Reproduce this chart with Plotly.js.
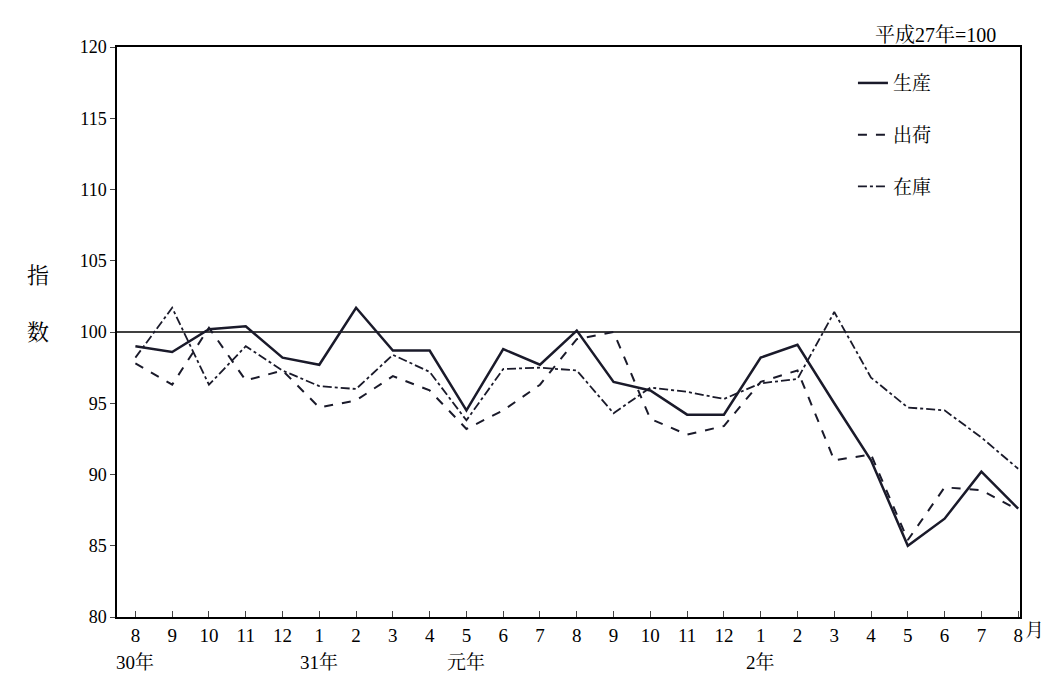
<!DOCTYPE html>
<html><head><meta charset="utf-8">
<script src="https://cdn.plot.ly/plotly-3.0.1.min.js"></script>
</head><body style="margin:0">
<div id="c" style="width:1058px;height:686px"></div>
<script>
const months = ["8","9","10","11","12","1","2","3","4","5","6","7","8","9","10","11","12","1","2","3","4","5","6","7","8"];
const production = [99.0,98.6,100.2,100.4,98.2,97.7,101.7,98.7,98.7,94.5,98.8,97.7,100.1,96.5,95.9,94.2,94.2,98.2,99.1,95.0,91.0,85.0,86.9,90.2,87.6];
const shipment = [97.8,96.3,100.3,96.6,97.3,94.7,95.2,96.9,95.9,93.2,94.5,96.3,99.5,100.0,93.9,92.8,93.4,96.5,97.3,91.0,91.4,85.4,89.1,88.9,87.5];
const inventory = [98.2,101.7,96.3,99.0,97.3,96.2,96.0,98.4,97.2,93.8,97.4,97.5,97.3,94.3,96.1,95.8,95.3,96.4,96.7,101.4,96.8,94.7,94.5,92.6,90.4];
const yearLabels = [{i:0,t:"30年"},{i:5,t:"31年"},{i:9,t:"元年"},{i:17,t:"2年"}];
const idx = months.map((_,i)=>i);
const F = "'Liberation Serif', 'Noto Serif CJK JP', 'Noto Sans CJK JP', serif";
const traces = [
 {x:[-0.5,24.05],y:[100,100],mode:"lines",line:{color:"#000",width:1.5},showlegend:false,hoverinfo:"skip"},
 {x:idx,y:production,name:"生産",legendgroup:"a",mode:"lines",line:{color:"#1a1a2a",width:2.5}},
 {x:idx,y:shipment,name:"出荷",legendgroup:"b",mode:"lines",line:{color:"#1a1a2a",width:2,dash:"dash"}},
 {x:idx,y:inventory,name:"在庫",legendgroup:"c",mode:"lines",line:{color:"#1a1a2a",width:1.8,dash:"dashdot"}}
];
const ann = yearLabels.map(o=>({x:o.i,y:0,xref:"x",yref:"paper",yshift:-58,text:o.t,showarrow:false,xanchor:"center",font:{size:19,family:F}}));
ann.push({x:1,xref:"paper",y:0,yref:"paper",xshift:26,yshift:-26,text:"月",showarrow:false,font:{size:19,family:F}});
ann.push({x:1,xref:"paper",y:1,yref:"paper",yshift:25,xshift:-22,xanchor:"right",text:"平成27年=100",showarrow:false,font:{size:20,family:F}});
ann.push({x:0,xref:"paper",y:0.55,yref:"paper",xshift:-92,text:"指<br><br>数",showarrow:false,font:{size:22,family:F}});
Plotly.newPlot("c",traces,{
 width:1058,height:686,margin:{l:117,r:38,t:47,b:69},
 paper_bgcolor:"#fff",plot_bgcolor:"#fff",
 font:{family:F,size:18,color:"#000"},
 xaxis:{range:[-0.5,24.05],tickvals:idx,ticktext:months,showgrid:false,zeroline:false,showline:true,linecolor:"#000",linewidth:1.5,mirror:true,ticks:"inside",ticklen:6,tickfont:{size:19}},
 yaxis:{range:[80,120],dtick:5,showgrid:false,zeroline:false,showline:true,linecolor:"#000",linewidth:1.5,mirror:true,ticks:"outside",ticklen:5,tickfont:{size:18}},
 legend:{x:0.815,y:0.97,xanchor:"left",bgcolor:"rgba(0,0,0,0)",font:{size:19},tracegroupgap:24},
 annotations:ann
},{displayModeBar:false});
</script></body></html>
